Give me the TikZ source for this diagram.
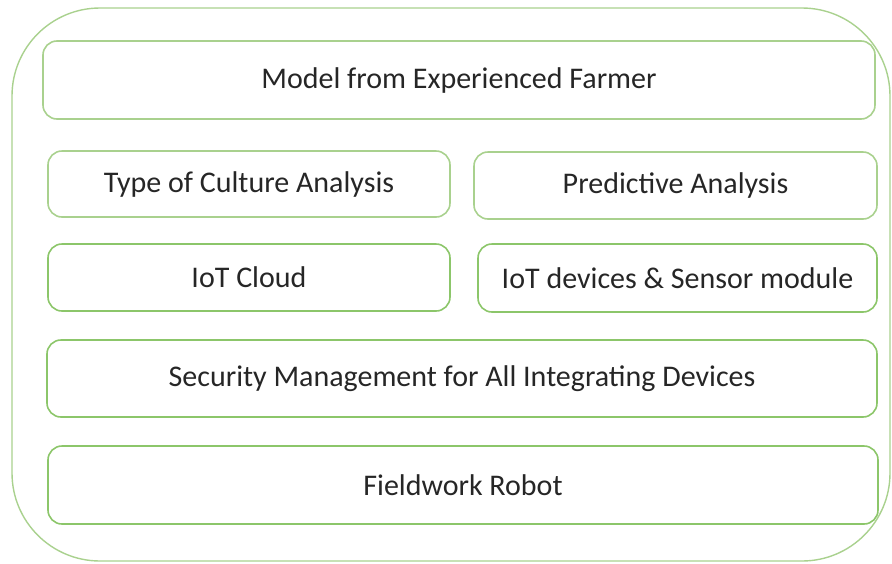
\documentclass[tikz,border=0pt]{standalone}
\usepackage{fontspec}
\setmainfont{Carlito}
\definecolor{lightleaf}{HTML}{A9D18E}
\definecolor{leaf}{HTML}{8CC66A}
\begin{document}
\begin{tikzpicture}[x=1pt, y=-1pt,
    layer/.style={draw=leaf, line width=1.6pt, rounded corners=14pt, inner sep=0pt,
                  font=\fontsize{30}{36}\selectfont, text=black!85},
    toplayer/.style={layer, draw=lightleaf}]
        \useasboundingbox (0, 0) rectangle (892, 563);
        \draw[lightleaf, line width=1.4pt, rounded corners=88pt] (12, 8) rectangle (890, 561);
        \node[toplayer, minimum width=832pt, minimum height=78pt] (farmer) at (459, 80) {Model from Experienced Farmer};
        \node[toplayer, minimum width=402pt, minimum height=66pt] (culture) at (249, 184) {Type of Culture Analysis};
        \node[toplayer, minimum width=403pt, minimum height=67pt] (predict) at (675.5, 185.5) {Predictive Analysis};
        \node[layer, minimum width=402pt, minimum height=67pt] (cloud) at (249, 277.5) {IoT Cloud};
        \node[layer, minimum width=399pt, minimum height=68pt] (devices) at (677.5, 278) {IoT devices \& Sensor module};
        \node[layer, minimum width=830pt, minimum height=77pt] (security) at (462, 378.5) {Security Management for All Integrating Devices};
        \node[layer, minimum width=830pt, minimum height=78pt] (robot) at (463, 485) {Fieldwork Robot};
\end{tikzpicture}
\end{document}
